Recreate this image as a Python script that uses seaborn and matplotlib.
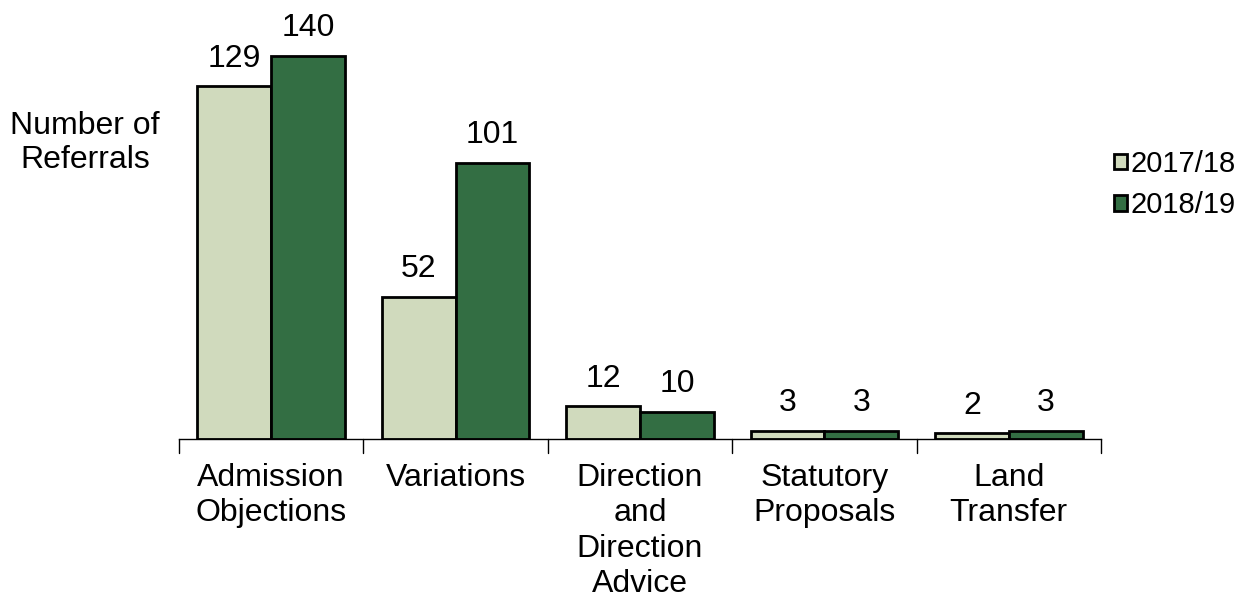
import pandas as pd
import numpy as np
import seaborn as sns
import matplotlib.pyplot as plt

categories = ["Admission\nObjections", "Variations", "Direction\nand\nDirection\nAdvice",
              "Statutory\nProposals", "Land\nTransfer"]
years = ["2017/18", "2018/19"]
v2017 = [129, 52, 12, 3, 2]
v2018 = [140, 101, 10, 3, 3]

df = pd.DataFrame({
    "category": categories * 2,
    "year": [years[0]] * 5 + [years[1]] * 5,
    "value": v2017 + v2018,
})

sns.set_style("white")
plt.rcParams['font.family'] = ['Liberation Sans', 'DejaVu Sans']
plt.rcParams['text.color'] = 'black'
plt.rcParams['xtick.color'] = 'black'

fig = plt.figure(figsize=(12.5, 6.01), dpi=100)
ax = fig.add_axes([0.1432, 0.2696, 0.7376, 0.6828])

pal = {"2017/18": "#D0DABD", "2018/19": "#336E43"}
sns.barplot(data=df, x="category", y="value", hue="year", palette=pal,
            width=0.8, edgecolor="black", linewidth=2, ax=ax, legend=False,
            saturation=1)

for cont in ax.containers:
    ax.bar_label(cont, padding=9, fontsize=23, color="black")

ax.set_ylim(0, 150)
ax.set_xlim(-0.5, 4.5)
ax.set_yticks([])
ax.set_ylabel("")
ax.set_xlabel("")
for s in ["top", "right", "left"]:
    ax.spines[s].set_visible(False)
ax.spines["bottom"].set_color("black")
ax.spines["bottom"].set_linewidth(1)

ax.set_xticks(range(5))
ax.set_xticklabels(categories, fontsize=23, linespacing=1.24, color="black")
ax.tick_params(axis="x", length=0, pad=17)
for b in np.arange(-0.5, 5, 1):
    ax.plot([b, b], [0, -0.035], transform=ax.get_xaxis_transform(),
            color="black", lw=1, clip_on=False)

fig.text(0.068, 0.762, "Number of\nReferrals", fontsize=23, ha="center", va="center",
         linespacing=1.15, color="black")

handles = [plt.Rectangle((0, 0), 1, 1, facecolor=pal[y], edgecolor="black", lw=2) for y in years]
fig.legend(handles, years, loc="center left", bbox_to_anchor=(0.891, 0.693),
           frameon=False, fontsize=21, handlelength=0.45, handleheight=0.45,
           handletextpad=0.12, labelspacing=0.45, borderpad=0, borderaxespad=0,
           labelcolor="black")

fig.savefig("out.png", dpi=100)
